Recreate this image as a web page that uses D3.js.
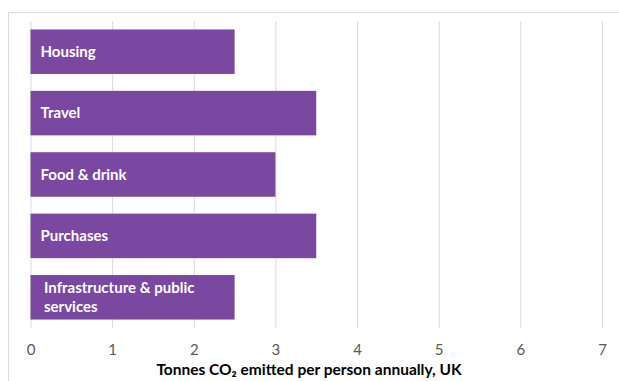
<!DOCTYPE html>
<html>
<head>
<meta charset="utf-8">
<script src="https://cdn.jsdelivr.net/npm/d3@7"></script>
<style>
  body { margin: 0; background: #fff; }
  svg { display: block; }
</style>
</head>
<body>
<svg width="619" height="381"></svg>
<script>
const categories = ["Housing", "Travel", "Food & drink", "Purchases", "Infrastructure & public services"]
const labelLines = [["Housing"], ["Travel"], ["Food & drink"], ["Purchases"], ["Infrastructure & public", "services"]]
const values = [2.5, 3.5, 3.0, 3.5, 2.5]
const xTicks = [0, 1, 2, 3, 4, 5, 6, 7]
const axisTitle = "Tonnes CO\u2082 emitted per person annually, UK"

const svg = d3.select("svg")
const font = "Lato, 'Open Sans', sans-serif"

// chart frame
svg.append("rect")
  .attr("x", 8.5).attr("y", 12.5)
  .attr("width", 620).attr("height", 380)
  .attr("fill", "none")
  .attr("stroke", "#d9d9d9")
  .attr("stroke-width", 1)

const xScale = d3.scaleLinear()
  .domain([0, 7])
  .range([30.5, 602])

const yScale = d3.scaleBand()
  .domain(categories)
  .range([21, 328])
  .paddingInner(0.275)
  .paddingOuter(0.1375)

// gridlines + ticks
const xAxis = d3.axisBottom(xScale)
  .tickValues(xTicks)
  .tickSize(-(328 - 21))
  .tickFormat(d3.format("d"))
  .tickPadding(16)

const xAxisG = svg.append("g")
  .attr("transform", `translate(0,328)`)
  .call(xAxis)
xAxisG.select(".domain").remove()
xAxisG.selectAll(".tick line")
  .attr("stroke", "#d9d9d9")
  .attr("stroke-width", 1)
xAxisG.selectAll(".tick text")
  .attr("fill", "#595959")
  .attr("font-family", font)
  .attr("font-size", "15px")

// bars
svg.selectAll("rect.bar")
  .data(categories)
  .enter().append("rect")
  .attr("class", "bar")
  .attr("x", xScale(0))
  .attr("y", d => yScale(d))
  .attr("width", (d, i) => xScale(values[i]) - xScale(0))
  .attr("height", yScale.bandwidth())
  .attr("fill", "#7a47a1")

// labels inside bars
const labels = svg.selectAll("text.lbl")
  .data(categories)
  .enter().append("text")
  .attr("class", "lbl")
  .attr("fill", "#ffffff")
  .attr("font-family", font)
  .attr("font-weight", "bold")
  .attr("font-size", "15px")

labels.each(function(d, i) {
  const lines = labelLines[i]
  const cy = yScale(d) + yScale.bandwidth() / 2
  const lh = 19
  const x0 = lines.length > 1 ? 44 : 40.5
  lines.forEach((ln, j) => {
    d3.select(this).append("tspan")
      .attr("x", x0)
      .attr("y", cy + (j - (lines.length - 1) / 2) * lh)
      .attr("dy", "0.35em")
      .text(ln)
  })
})

// axis title
svg.append("text")
  .attr("x", 309)
  .attr("y", 370)
  .attr("dy", "0.35em")
  .attr("text-anchor", "middle")
  .attr("font-family", font)
  .attr("font-weight", "bold")
  .attr("font-size", "15.5px")
  .attr("fill", "#000")
  .text(axisTitle)
</script>
</body>
</html>
